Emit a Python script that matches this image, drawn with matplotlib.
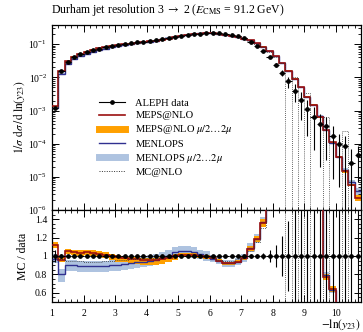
import numpy as np
import matplotlib
matplotlib.use("Agg")
import matplotlib.pyplot as plt
from matplotlib.lines import Line2D
from matplotlib.ticker import MultipleLocator, LogLocator, NullFormatter, FixedLocator

plt.rcParams['font.family'] = 'serif'
plt.rcParams['font.serif'] = ['Liberation Serif', 'DejaVu Serif']
plt.rcParams['mathtext.fontset'] = 'stix'

# ---- data ----
bin_edges = np.linspace(1.0, 10.8, 50)

aleph = [1.2e-3, 1.6e-2, 2.9e-2, 4.0e-2, 4.9e-2, 5.8e-2, 6.6e-2, 7.4e-2, 8.2e-2, 9.0e-2,
         9.6e-2, 0.102, 0.108, 0.114, 0.120, 0.127, 0.134, 0.142, 0.151, 0.161,
         0.172, 0.184, 0.197, 0.209, 0.218, 0.222, 0.219, 0.210, 0.195, 0.175,
         0.150, 0.120, 0.090, 0.062, 0.040, 0.024, 0.014, 0.0076, 0.0040, 0.0021,
         1.1e-3, 6.5e-4, 4.0e-4, 3.3e-4, 1.7e-4, 1.0e-4, 8.3e-5, 2.7e-5, 4.6e-5]

aleph_relerr = [0.06, 0.02, 0.015, 0.012, 0.01, 0.01, 0.01, 0.01, 0.01, 0.01,
                0.01, 0.01, 0.01, 0.01, 0.01, 0.01, 0.01, 0.01, 0.01, 0.01,
                0.01, 0.01, 0.01, 0.01, 0.01, 0.01, 0.01, 0.01, 0.01, 0.012,
                0.015, 0.02, 0.025, 0.035, 0.06, 0.12, 0.22, 0.38, 0.55, 0.75,
                0.85, 0.9, 0.95, 0.9, 0.95, 0.95, 1.0, 1.5, 0.85]

# MC / data ratios
meps_ratio = [1.12, 0.96, 1.05, 1.04, 1.03, 1.04, 1.03, 1.02, 1.01, 1.00,
              0.99, 0.98, 0.97, 0.97, 0.96, 0.96, 0.96, 0.97, 0.98, 1.00,
              1.01, 1.01, 1.01, 1.00, 0.99, 0.98, 0.95, 0.92, 0.92, 0.94,
              0.98, 1.08, 1.18, 1.36, 1.55, 1.8, 1.95, 2.1, 2.25, 2.4,
              2.4, 2.3, 1.6, 0.77, 0.64, 0.39, 0.18, 0.21, 0.05]
meps_band_lo = [1.09, 0.93, 1.02, 1.01, 1.00, 1.01, 1.00, 0.99, 0.98, 0.96,
                0.94, 0.93, 0.91, 0.91, 0.90, 0.90, 0.90, 0.91, 0.93, 0.96,
                0.99, 0.99, 0.99, 0.98, 0.97, 0.96, 0.93, 0.90, 0.90, 0.92,
                0.96, 1.05, 1.15, 1.32, 1.5, 1.75, 1.9, 2.0, 2.15, 2.3,
                2.3, 2.2, 1.5, 0.74, 0.61, 0.36, 0.16, 0.19, 0.04]
meps_band_hi = [1.15, 0.99, 1.08, 1.07, 1.07, 1.07, 1.06, 1.05, 1.04, 1.02,
                1.01, 1.00, 0.99, 0.99, 0.98, 0.98, 0.98, 0.99, 1.00, 1.02,
                1.03, 1.03, 1.03, 1.02, 1.01, 1.00, 0.97, 0.94, 0.94, 0.96,
                1.00, 1.11, 1.22, 1.40, 1.6, 1.85, 2.0, 2.2, 2.35, 2.5,
                2.5, 2.4, 1.7, 0.80, 0.67, 0.42, 0.20, 0.23, 0.06]

menlops_ratio = [0.97, 0.80, 0.90, 0.90, 0.89, 0.89, 0.89, 0.89, 0.89, 0.90,
                 0.90, 0.91, 0.92, 0.93, 0.94, 0.95, 0.96, 0.98, 1.00, 1.04,
                 1.05, 1.05, 1.04, 1.02, 1.00, 0.97, 0.95, 0.92, 0.92, 0.94,
                 0.98, 1.09, 1.19, 1.37, 1.56, 1.8, 1.95, 2.1, 2.25, 2.4,
                 2.4, 2.3, 1.7, 0.79, 0.63, 0.40, 0.20, 0.26, 0.08]
menlops_band_lo = [0.92, 0.72, 0.84, 0.84, 0.83, 0.83, 0.83, 0.83, 0.83, 0.84,
                   0.84, 0.85, 0.86, 0.87, 0.88, 0.89, 0.90, 0.92, 0.94, 0.98,
                   0.99, 0.99, 0.98, 0.97, 0.95, 0.93, 0.91, 0.88, 0.88, 0.90,
                   0.94, 1.04, 1.14, 1.32, 1.5, 1.7, 1.85, 2.0, 2.1, 2.3,
                   2.3, 2.2, 1.6, 0.75, 0.60, 0.37, 0.18, 0.23, 0.06]
menlops_band_hi = [1.02, 0.86, 0.96, 0.96, 0.95, 0.95, 0.95, 0.95, 0.95, 0.96,
                   0.96, 0.97, 0.98, 0.99, 1.00, 1.01, 1.02, 1.04, 1.06, 1.10,
                   1.11, 1.11, 1.10, 1.07, 1.05, 1.01, 0.99, 0.96, 0.96, 0.98,
                   1.02, 1.14, 1.24, 1.42, 1.62, 1.9, 2.05, 2.2, 2.4, 2.5,
                   2.5, 2.4, 1.8, 0.83, 0.66, 0.43, 0.22, 0.29, 0.10]

mcatnlo_ratio = [1.00, 0.97, 0.95, 0.95, 0.95, 0.94, 0.94, 0.94, 0.95, 0.95,
                 0.96, 0.96, 0.97, 0.97, 0.98, 0.98, 0.98, 0.99, 0.99, 1.00,
                 1.00, 1.00, 1.00, 1.00, 0.99, 0.98, 0.96, 0.95, 0.95, 0.97,
                 1.00, 1.05, 1.15, 1.30, 1.50, 1.70, 1.90, 0.0, 2.5, 0.0,
                 3.0, 0.0, 0.0, 2.0, 0.0, 0.0, 3.0, 0.0, 0.0]

title = r"Durham jet resolution 3 $\rightarrow$ 2 ($E_{\mathrm{CMS}}$ = 91.2 GeV)"
labels = ["ALEPH data", "MEPS@NLO", r"MEPS@NLO $\mu/2\ldots2\mu$",
          "MENLOPS", r"MENLOPS $\mu/2\ldots2\mu$", "MC@NLO"]

# ---- colours ----
c_meps = '#9b1010'
c_meps_band = '#ffa000'
c_menlops = '#303090'
c_menlops_band = '#aec3e0'
c_mcatnlo = '#333333'

d = np.array(aleph)
err = np.array(aleph_relerr)
centers = 0.5 * (bin_edges[1:] + bin_edges[:-1])
halfw = 0.5 * np.diff(bin_edges)

fig = plt.figure(figsize=(3.63, 3.32), dpi=100)
ax = fig.add_axes([0.1433, 0.3675, 0.851, 0.5572])
rx = fig.add_axes([0.1433, 0.0904, 0.851, 0.2771], sharex=ax)

def draw(a, scale):
    a.stairs(np.array(menlops_band_hi) * scale, bin_edges,
             baseline=np.array(menlops_band_lo) * scale, fill=True,
             color=c_menlops_band, lw=0, zorder=1)
    a.stairs(np.array(meps_band_hi) * scale, bin_edges,
             baseline=np.array(meps_band_lo) * scale, fill=True,
             color=c_meps_band, lw=0, zorder=2)
    a.stairs(np.array(menlops_ratio) * scale, bin_edges, baseline=None,
             color=c_menlops, lw=1.0, zorder=3)
    a.stairs(np.array(meps_ratio) * scale, bin_edges, baseline=None,
             color=c_meps, lw=1.2, zorder=4)
    a.stairs(np.array(mcatnlo_ratio) * scale, bin_edges, baseline=None,
             color=c_mcatnlo, lw=0.6, ls=(0, (1, 1.5)), zorder=5)

# main panel
draw(ax, d)
lo = np.minimum(d * err, d * 0.999999)
ax.errorbar(centers, d, xerr=halfw, yerr=[lo, d * err], fmt='o', ms=2.4,
            color='black', elinewidth=0.8, capsize=0, zorder=6)
ax.set_yscale('log', nonpositive='clip')
ax.set_ylim(1e-6, 0.38)
ax.set_xlim(1.0, 10.8)
ax.yaxis.set_major_locator(LogLocator(base=10, numticks=10))
ax.yaxis.set_minor_locator(LogLocator(base=10, subs=np.arange(2, 10), numticks=20))
ax.yaxis.set_minor_formatter(NullFormatter())
ax.set_ylabel(r"$1/\sigma\ \mathrm{d}\sigma\,/\,\mathrm{d}\,\ln(y_{23})$", fontsize=8.3, labelpad=1)
plt.setp(ax.get_xticklabels(), visible=False)
ax.text(-0.003, 1.04, title, transform=ax.transAxes, fontsize=8.5, ha='left', va='bottom')

handles = [
    Line2D([], [], color='black', marker='o', ms=2.4, lw=0.8),
    Line2D([], [], color=c_meps, lw=1.2),
    Line2D([], [], color=c_meps_band, lw=5),
    Line2D([], [], color=c_menlops, lw=1.0),
    Line2D([], [], color=c_menlops_band, lw=5),
    Line2D([], [], color=c_mcatnlo, lw=0.7, ls=(0, (1, 1.5))),
]
ax.legend(handles, labels, loc='upper left', bbox_to_anchor=(0.14, 0.625),
          frameon=False, fontsize=7.6, handlelength=2.4, handletextpad=1.0,
          labelspacing=0.28, borderaxespad=0)

# ratio panel
draw(rx, 1.0)
rx.errorbar(centers, np.ones_like(d), xerr=halfw, yerr=err, fmt='o', ms=2.4,
            color='black', elinewidth=0.8, capsize=0, zorder=6)
rx.set_ylim(0.5, 1.5)
rx.yaxis.set_major_locator(FixedLocator([0.6, 0.8, 1.0, 1.2, 1.4]))
rx.set_yticklabels(["0.6", "0.8", "1", "1.2", "1.4"])
rx.yaxis.set_minor_locator(MultipleLocator(0.05))
rx.xaxis.set_major_locator(MultipleLocator(1))
rx.xaxis.set_minor_locator(MultipleLocator(0.2))
rx.set_ylabel("MC / data", fontsize=8.5, labelpad=4)
fig.text(361 / 363, 1 - 325 / 332, r"$-\ln(y_{23})$", fontsize=8.3, ha='right', va='center')

for a in (ax, rx):
    a.tick_params(which='both', direction='in', top=True, right=True, labelsize=7)
    a.tick_params(which='major', length=5, width=0.7)
    a.tick_params(which='minor', length=2.5, width=0.6)
    for s in a.spines.values():
        s.set_linewidth(0.9)
rx.tick_params(axis='x', pad=5)

fig.savefig("out.png", dpi=100)
